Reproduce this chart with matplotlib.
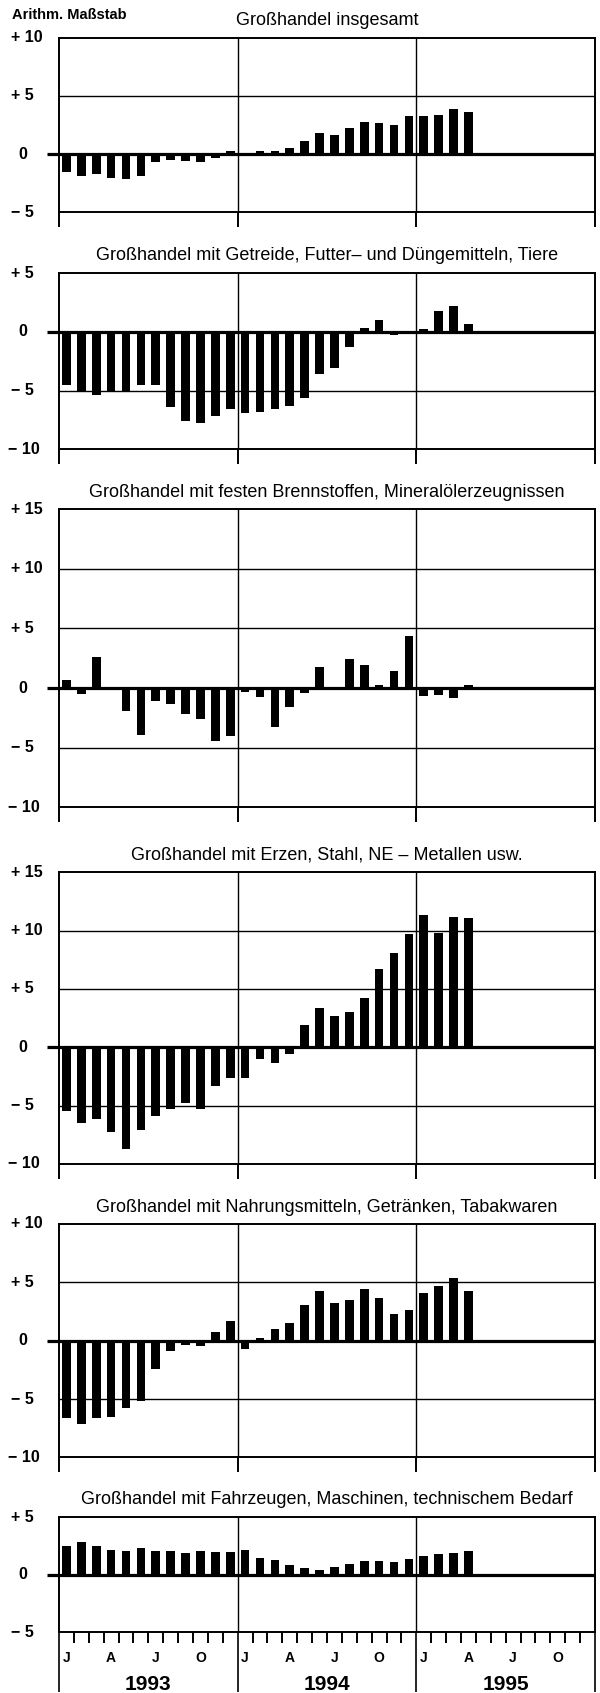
import numpy as np
from matplotlib import pyplot as plt
from matplotlib import transforms

plt.rcParams["font.family"] = ["Liberation Sans", "DejaVu Sans"]

# monthly change vs. previous year in %, Jan 1993 .. Apr 1995
insgesamt = [-1.5, -1.85, -1.7, -2.05, -2.15, -1.85, -0.7, -0.5, -0.55, -0.65, -0.35, 0.25,
             0.1, 0.3, 0.25, 0.55, 1.1, 1.85, 1.6, 2.25, 2.8, 2.7, 2.5, 3.25,
             3.25, 3.4, 3.9, 3.65]
getreide = [-4.5, -5.0, -5.4, -5.0, -5.0, -4.5, -4.5, -6.4, -7.6, -7.8, -7.2, -6.6,
            -6.9, -6.8, -6.6, -6.3, -5.6, -3.6, -3.1, -1.3, 0.35, 1.0, -0.3, -0.2,
            0.2, 1.75, 2.2, 0.7]
brennstoffe = [0.65, -0.5, 2.65, -0.2, -1.95, -3.9, -1.1, -1.3, -2.15, -2.6, -4.4, -4.0,
               -0.35, -0.75, -3.3, -1.55, -0.45, 1.75, 0.0, 2.45, 1.95, 0.3, 1.45, 4.4,
               -0.7, -0.55, -0.85, 0.3]
erze = [-5.5, -6.5, -6.15, -7.3, -8.7, -7.1, -5.9, -5.3, -4.8, -5.3, -3.3, -2.6,
        -2.6, -1.0, -1.35, -0.55, 1.9, 3.4, 2.7, 3.0, 4.2, 6.7, 8.1, 9.7,
        11.3, 9.8, 11.2, 11.1]
nahrung = [-6.6, -7.1, -6.6, -6.5, -5.8, -5.2, -2.4, -0.85, -0.35, -0.45, 0.75, 1.7,
           -0.75, 0.25, 1.0, 1.5, 3.05, 4.3, 3.2, 3.45, 4.4, 3.7, 2.25, 2.6,
           4.05, 4.7, 5.4, 4.25]
fahrzeuge = [2.45, 2.8, 2.45, 2.15, 2.05, 2.3, 2.05, 2.05, 1.9, 2.05, 1.95, 1.95,
             2.1, 1.45, 1.3, 0.8, 0.6, 0.4, 0.7, 0.9, 1.2, 1.2, 1.1, 1.35,
             1.6, 1.8, 1.9, 2.05]

titles = [
    "Großhandel insgesamt",
    "Großhandel mit Getreide, Futter– und Düngemitteln, Tiere",
    "Großhandel mit festen Brennstoffen, Mineralölerzeugnissen",
    "Großhandel mit Erzen, Stahl, NE – Metallen usw.",
    "Großhandel mit Nahrungsmitteln, Getränken, Tabakwaren",
    "Großhandel mit Fahrzeugen, Maschinen, technischem Bedarf",
]
series = [insgesamt, getreide, brennstoffe, erze, nahrung, fahrzeuge]
y_ranges = [(-5, 10), (-10, 5), (-10, 15), (-10, 15), (-10, 10), (-5, 5)]
month_labels = ["J", "A", "J", "O"]
years = ["1993", "1994", "1995"]

W, H = 600, 1693
# panel box top/bottom in pixels
boxes = [(37.7, 212.3), (273, 449.3), (509.3, 807.3), (872.3, 1164), (1224, 1457.4), (1517, 1632.3)]
left_px, right_px = 59, 595

fig = plt.figure(figsize=(W / 100, H / 100), dpi=100)
fig.text(12 / W, 1 - 15 / H, "Arithm. Maßstab", fontsize=10.5, fontweight="bold",
         ha="left", va="center")


def label(v):
    if v > 0:
        return f"+ {v}"
    if v < 0:
        return f"\u2212 {-v}"
    return "0"


def month_x(m):
    # month position (in months from Jan 1993) -> figure fraction
    return (left_px + m * (right_px - left_px) / 36) / W


for i, (title, values, (ymin, ymax), (top, bottom)) in enumerate(
    zip(titles, series, y_ranges, boxes)
):
    ax = fig.add_axes([left_px / W, 1 - bottom / H, (right_px - left_px) / W, (bottom - top) / H])
    x = np.arange(len(values)) + 0.5
    ax.bar(x, values, width=0.58, color="black", zorder=3)
    ax.set_xlim(0, 36)
    ax.set_ylim(ymin, ymax)

    for v in range(ymin + 5, ymax, 5):
        if v != 0:
            ax.axhline(v, color="black", lw=1.0, zorder=1)
    for b in (12, 24):
        ax.axvline(b, color="black", lw=1.0, zorder=1)
    ax.plot([-0.023, 1], [0, 0], color="black", lw=2.3, transform=ax.get_yaxis_transform(),
            clip_on=False, zorder=4, solid_capstyle="butt")

    for s in ax.spines.values():
        s.set_linewidth(1.4)

    # y labels, left aligned at the figure edge
    trans = transforms.blended_transform_factory(fig.transFigure, ax.transData)
    for v in range(ymin, ymax + 1, 5):
        if v == 0:
            ax.text(23 / W, v, "0", transform=trans, ha="center", va="center",
                    fontsize=11.5, fontweight="bold")
        else:
            xpos = 8 / W if v == -10 else 11 / W
            ax.text(xpos, v, label(v), transform=trans, ha="left", va="center",
                    fontsize=11.5, fontweight="bold")

    ax.text(0.5, 1 + 17 / (bottom - top), title, transform=ax.transAxes, ha="center",
            va="center", fontsize=13)

    ax.set_yticks([])
    ax.set_xticks([0, 12, 24, 36])
    ax.set_xticklabels([])
    if i < 5:
        ax.tick_params(axis="x", direction="out", length=11, width=1.4)
    else:
        ax.tick_params(axis="x", which="major", direction="out", length=43, width=1.2)
        ax.set_xticks([m for m in range(1, 36) if m % 12], minor=True)
        ax.tick_params(axis="x", which="minor", direction="out", length=8, width=1.4)
        for y in range(3):
            for k, m in enumerate(month_labels):
                fig.text(month_x(y * 12 + k * 3 + 0.5), 1 - 1658 / H, m, ha="center",
                         va="center", fontsize=10, fontweight="bold")
            fig.text(month_x(y * 12 + 6), 1 - 1684 / H, years[y], ha="center",
                     va="center", fontsize=15, fontweight="bold")

fig.savefig("out.png", dpi=100)
